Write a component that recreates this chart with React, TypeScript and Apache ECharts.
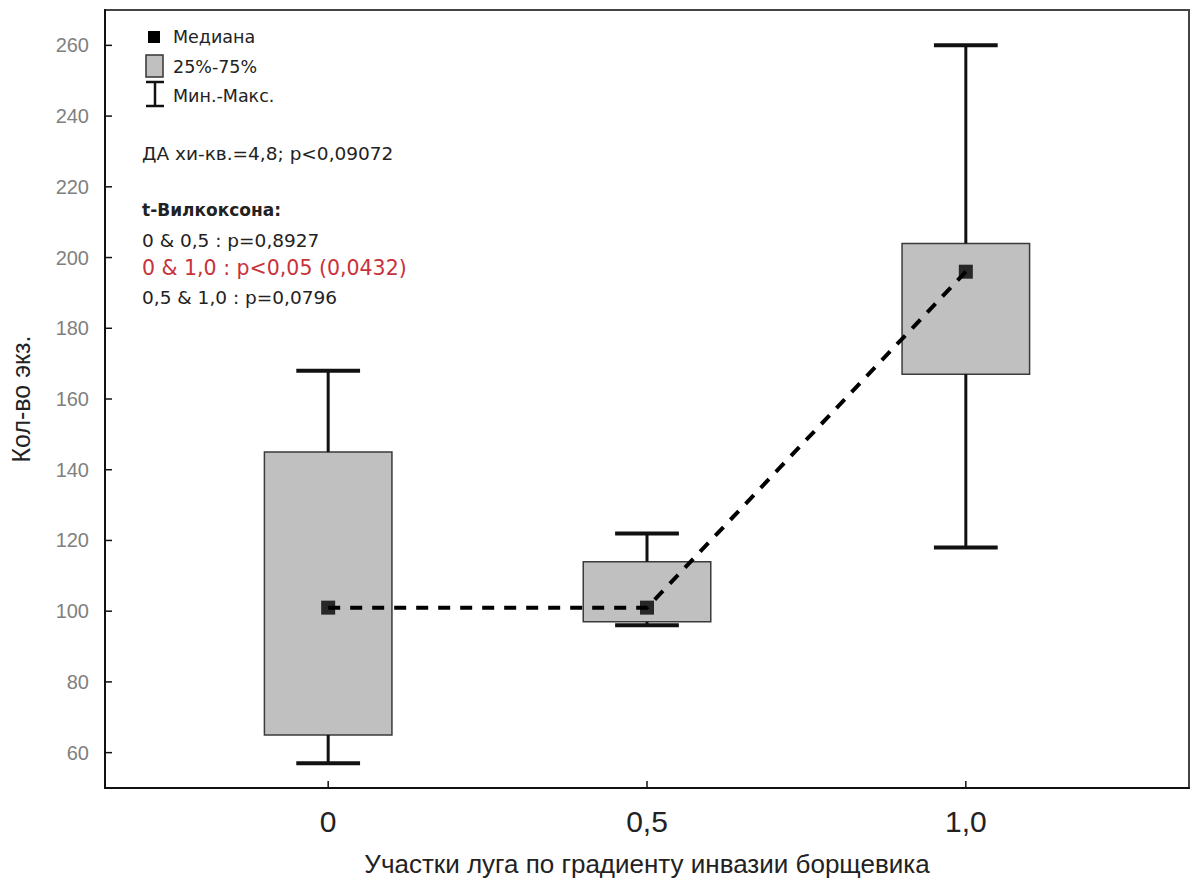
import React, { useEffect, useRef } from "react";
import * as echarts from "echarts";

// ---- data ----
const groupX = [0, 0.5, 1.0];
const minVals = [57, 96, 118];
const q1Vals = [65, 97, 167];
const medianVals = [101, 101, 196];
const q3Vals = [145, 114, 204];
const maxVals = [168, 122, 260];

const xTicks = [0, 0.5, 1.0];
const xTickLabels = ["0", "0,5", "1,0"];
const yTicks = [60, 80, 100, 120, 140, 160, 180, 200, 220, 240, 260];

const X_MIN = -0.35;
const X_MAX = 1.35;
const Y_MIN = 50;
const Y_MAX = 270;

const BOX_HALF = 0.1;
const CAP_HALF = 0.05;

const FONT = "Liberation Sans, Arial, sans-serif";
const WIDE = "DejaVu Sans, Verdana, sans-serif";

export default function App() {
  const ref = useRef<HTMLDivElement>(null);

  useEffect(() => {
    if (!ref.current) return;
    const chart = echarts.init(ref.current, null, { renderer: "svg" });

    const boxData = groupX.map((x, i) => [
      x,
      minVals[i],
      q1Vals[i],
      medianVals[i],
      q3Vals[i],
      maxVals[i],
    ]);

    const matchTick = (v: number, arr: number[]) =>
      arr.findIndex((t) => Math.abs(t - v) < 1e-6);

    const option: any = {
      animation: false,
      backgroundColor: "#ffffff",
      grid: {
        left: 104,
        top: 10,
        right: 3,
        bottom: 95,
        show: true,
        borderColor: "#444",
        borderWidth: 2,
        backgroundColor: "transparent",
      },
      xAxis: {
        type: "value",
        min: X_MIN,
        max: X_MAX,
        interval: 0.05,
        axisLine: { show: true, onZero: false, lineStyle: { color: "#111", width: 2 } },
        axisTick: { show: false },
        splitLine: { show: false },
        axisLabel: {
          fontFamily: FONT,
          fontSize: 30,
          color: "#222",
          margin: 18,
          formatter: (v: number) => {
            const i = matchTick(v, xTicks);
            return i >= 0 ? xTickLabels[i] : "";
          },
        },
        name: "Участки луга по градиенту инвазии борщевика",
        nameLocation: "middle",
        nameGap: 63,
        nameTextStyle: { fontFamily: FONT, fontSize: 26, color: "#222" },
      },
      yAxis: {
        type: "value",
        min: Y_MIN,
        max: Y_MAX,
        interval: 10,
        axisLine: { show: true, onZero: false, lineStyle: { color: "#111", width: 2 } },
        axisTick: { show: false },
        splitLine: { show: false },
        axisLabel: {
          fontFamily: FONT,
          fontSize: 20,
          color: "#808080",
          margin: 16,
          formatter: (v: number) => {
            const i = matchTick(v, yTicks);
            return i >= 0 ? String(yTicks[i]) : "";
          },
        },
        name: "Кол-во экз.",
        nameLocation: "middle",
        nameGap: 72,
        nameRotate: 90,
        nameTextStyle: { fontFamily: FONT, fontSize: 25, color: "#222" },
      },
      series: [
        {
          type: "custom",
          name: "box",
          data: boxData,
          encode: { x: 0, y: [1, 2, 3, 4, 5] },
          renderItem: (params: any, api: any) => {
            const x = api.value(0);
            const vMin = api.value(1);
            const vQ1 = api.value(2);
            const vQ3 = api.value(4);
            const vMax = api.value(5);
            const bl = api.coord([x - BOX_HALF, vQ1]);
            const tr = api.coord([x + BOX_HALF, vQ3]);
            const c = api.coord([x, vMin]);
            const cMax = api.coord([x, vMax]);
            const capL = api.coord([x - CAP_HALF, vMin])[0];
            const capR = api.coord([x + CAP_HALF, vMin])[0];
            const cx = c[0];
            const lineStyle = { stroke: "#111", lineWidth: 3 };
            const capStyle = { stroke: "#111", lineWidth: 4 };
            return {
              type: "group",
              children: [
                {
                  type: "rect",
                  shape: { x: bl[0], y: tr[1], width: tr[0] - bl[0], height: bl[1] - tr[1] },
                  style: { fill: "#c0c0c0", stroke: "#3a3a3a", lineWidth: 1.5 },
                },
                {
                  type: "line",
                  shape: { x1: cx, y1: tr[1], x2: cx, y2: cMax[1] },
                  style: lineStyle,
                },
                {
                  type: "line",
                  shape: { x1: capL, y1: cMax[1], x2: capR, y2: cMax[1] },
                  style: capStyle,
                },
                {
                  type: "line",
                  shape: { x1: cx, y1: bl[1], x2: cx, y2: c[1] },
                  style: lineStyle,
                },
                {
                  type: "line",
                  shape: { x1: capL, y1: c[1], x2: capR, y2: c[1] },
                  style: capStyle,
                },
              ],
            };
          },
          z: 2,
        },
        {
          type: "line",
          name: "Медиана-линия",
          data: groupX.map((x, i) => [x, medianVals[i]]),
          showSymbol: false,
          symbol: "none",
          lineStyle: { color: "#000", width: 4, type: [12, 10] },
          z: 3,
        },
        {
          type: "scatter",
          name: "Медиана",
          data: groupX.map((x, i) => [x, medianVals[i]]),
          symbol: "rect",
          symbolSize: [14, 14],
          itemStyle: { color: "#000" },
          z: 4,
        },
        {
          type: "custom",
          name: "yticks",
          data: yTicks.map((v) => [X_MIN, v]),
          encode: { x: 0, y: 1 },
          renderItem: (params: any, api: any) => {
            const p = api.coord([api.value(0), api.value(1)]);
            const left = params.coordSys.x;
            return {
              type: "line",
              shape: { x1: left, y1: p[1], x2: left + 7, y2: p[1] },
              style: { stroke: "#111", lineWidth: 1.5 },
            };
          },
          z: 5,
        },
        {
          type: "custom",
          name: "xticks",
          data: xTicks.map((v) => [v, Y_MIN]),
          encode: { x: 0, y: 1 },
          renderItem: (params: any, api: any) => {
            const p = api.coord([api.value(0), api.value(1)]);
            const bottom = params.coordSys.y + params.coordSys.height;
            return {
              type: "line",
              shape: { x1: p[0], y1: bottom, x2: p[0], y2: bottom - 7 },
              style: { stroke: "#111", lineWidth: 1.5 },
            };
          },
          z: 5,
        },
      ],
      graphic: [
        // legend
        { type: "rect", shape: { x: 148, y: 31, width: 12, height: 12 }, style: { fill: "#000" } },
        {
          type: "text",
          x: 173,
          y: 37,
          style: { text: "Медиана", font: `17.5px ${WIDE}`, fill: "#222", verticalAlign: "middle" },
        },
        {
          type: "rect",
          shape: { x: 146, y: 55, width: 17, height: 22 },
          style: { fill: "#c0c0c0", stroke: "#333", lineWidth: 1.5 },
        },
        {
          type: "text",
          x: 173,
          y: 67,
          style: { text: "25%-75%", font: `17.5px ${WIDE}`, fill: "#222", verticalAlign: "middle" },
        },
        { type: "line", shape: { x1: 146, y1: 82, x2: 164, y2: 82 }, style: { stroke: "#111", lineWidth: 2.5 } },
        { type: "line", shape: { x1: 155, y1: 82, x2: 155, y2: 106 }, style: { stroke: "#111", lineWidth: 2.5 } },
        { type: "line", shape: { x1: 146, y1: 106, x2: 164, y2: 106 }, style: { stroke: "#111", lineWidth: 2.5 } },
        {
          type: "text",
          x: 173,
          y: 96,
          style: { text: "Мин.-Макс.", font: `17.5px ${WIDE}`, fill: "#222", verticalAlign: "middle" },
        },
        // annotations
        {
          type: "text",
          x: 142,
          y: 153,
          style: { text: "ДА хи-кв.=4,8; p<0,09072", font: `18.5px ${WIDE}`, fill: "#222", verticalAlign: "middle" },
        },
        {
          type: "text",
          x: 142,
          y: 210,
          style: { text: "t-Вилкоксона:", font: `bold 17px ${WIDE}`, fill: "#222", verticalAlign: "middle" },
        },
        {
          type: "text",
          x: 142,
          y: 240,
          style: { text: "0 & 0,5 : p=0,8927", font: `18.5px ${WIDE}`, fill: "#222", verticalAlign: "middle" },
        },
        {
          type: "text",
          x: 142,
          y: 268,
          style: { text: "0 & 1,0 : p<0,05 (0,0432)", font: `20.5px ${WIDE}`, fill: "#c8323a", verticalAlign: "middle" },
        },
        {
          type: "text",
          x: 142,
          y: 297,
          style: { text: "0,5 & 1,0 : p=0,0796", font: `18.5px ${WIDE}`, fill: "#222", verticalAlign: "middle" },
        },
      ],
    };

    chart.setOption(option);
    return () => chart.dispose();
  }, []);

  return (
    <div
      ref={ref}
      style={{ position: "fixed", left: 0, top: 0, width: 1192, height: 883, background: "#fff" }}
    />
  );
}
